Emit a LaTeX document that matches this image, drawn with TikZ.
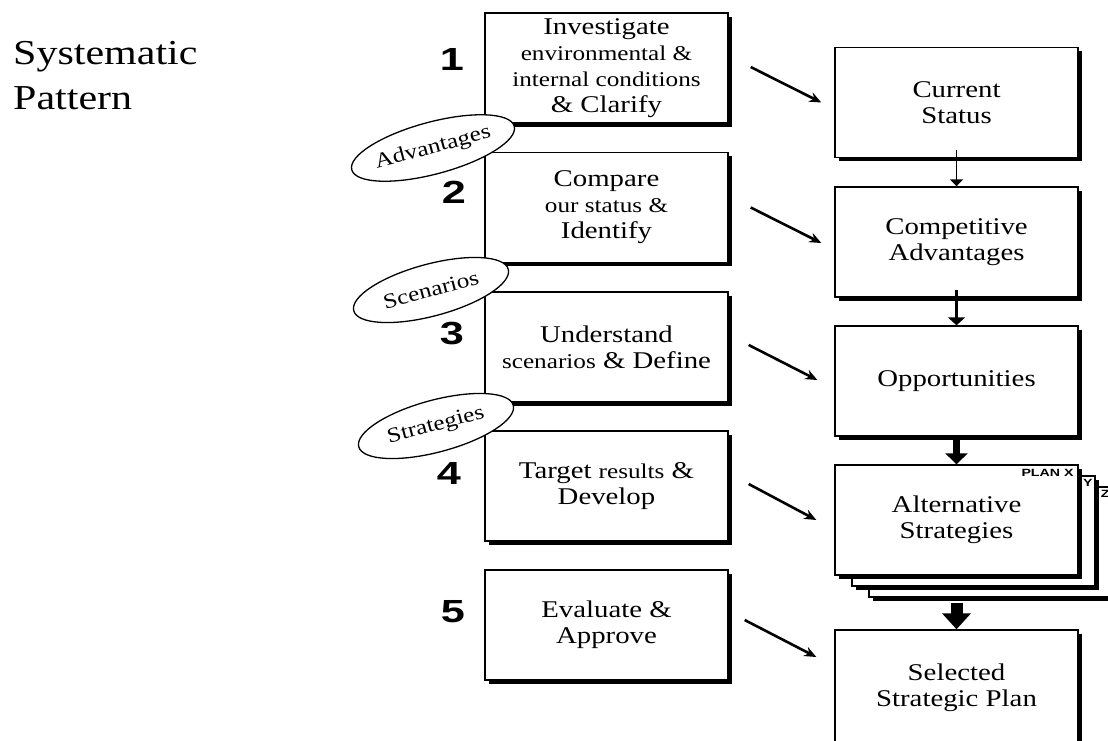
\documentclass[tikz,border=0pt]{standalone}
\usepackage{fontspec}
\setmainfont{Liberation Serif}[FakeStretch=1.2]
\newfontfamily\numfont{Liberation Sans}[FakeStretch=1.35]
\usetikzlibrary{shadows,shapes.geometric,arrows.meta,calc}
\newcommand{\sm}[1]{{\fontsize{21}{26}\selectfont #1}}

\begin{document}
\begin{tikzpicture}[x=1pt,y=-1pt,
  box/.style={rectangle, draw, line width=1.4pt, fill=white, minimum width=243pt, minimum height=110pt,
    align=center, inner sep=0pt, font=\fontsize{24}{26}\selectfont,
    drop shadow={shadow xshift=3.5pt, shadow yshift=-3.5pt, opacity=1, fill=black}},
  num/.style={font=\numfont\bfseries\fontsize{32}{32}\selectfont, inner sep=0pt},
  tag/.style={ellipse, draw, line width=1.3pt, fill=white, minimum width=160pt, minimum height=52pt,
    inner sep=0pt, rotate=15, font=\fontsize{21}{24}\selectfont},
  diag/.style={line width=2.6pt, -{Stealth[length=12pt,width=10pt]}},
  plan/.style={font=\numfont\bfseries\fontsize{10.5}{11}\selectfont, inner sep=0pt, anchor=north east}]

  \useasboundingbox (0,0) rectangle (1108,740);
  \clip (0,0) rectangle (1108,740);

  % Titre
  \node[anchor=north west, align=left, inner sep=0pt, font=\fontsize{35}{45}\selectfont] (title) at (13,41) {Systematic\\Pattern};

  % Etapes a gauche
  \node[box] (b1) at (606.5,68) {Investigate\\\sm{environmental \&}\\\sm{internal conditions}\\\& Clarify};
  \node[box] (b2) at (606.5,207.5) {Compare\\\sm{our status \&}\\Identify};
  \node[box] (b3) at (606.5,347) {Understand\\\sm{scenarios} \& Define};
  \node[box] (b4) at (606.5,486) {Target \sm{results} \&\\Develop};
  \node[box] (b5) at (606.5,625) {Evaluate \&\\Approve};

  % Resultats a droite
  \node[box] (cur) at (956.5,102.5) {Current\\Status};
  \node[box] (comp) at (956.5,242) {Competitive\\Advantages};
  \node[box] (opp) at (956.5,381) {Opportunities};
  \node[box] (alt3) at (990.5,542) {};
  \node[box] (alt2) at (973.5,531) {};
  \node[box] (alt) at (956.5,520) {Alternative\\Strategies};
  \node[box, minimum height=116pt] (sel) at (956.5,688) {Selected\\Strategic Plan};

  % Plans empiles
  \node[plan] at ($(alt.north east)+(-5,5)$) {PLAN X};
  \node[plan] at ($(alt2.north east)+(-3,4)$) {Y};
  \node[plan] at ($(alt3.north east)+(-3,4)$) {Z};

  % Fleches verticales, de plus en plus epaisses
  \draw[line width=1.5pt, -{Triangle[length=7pt,width=13pt]}, shorten <=-8pt] (cur) -- (comp);
  \draw[line width=3.5pt, -{Triangle[length=8pt,width=17pt]}, shorten <=-8pt] (comp) -- (opp);
  \draw[line width=7pt, -{Triangle[length=11pt,width=22pt]}] (opp) -- (alt);
  \draw[line width=12pt, -{Triangle[length=16pt,width=28pt]}, shorten <=27pt] (alt) -- (sel);

  % Fleches obliques
  \draw[diag] ($(b1.east)+(22,-1)$) -- ($(cur.west)+(-13,0)$);
  \draw[diag] ($(b2.east)+(22,0)$) -- ($(comp.west)+(-13,1)$);
  \draw[diag] ($(b3.east)+(20,-2)$) -- ($(opp.west)+(-17,-1)$);
  \draw[diag] ($(b4.east)+(20,-2)$) -- ($(alt.west)+(-18,0)$);
  \draw[diag] ($(b5.east)+(16,-5)$) -- ($(sel.west)+(-18,-31)$);

  % Ellipses entre les etapes
  \node[tag] (adv) at (433,148) {Advantages};
  \node[tag] (scen) at (431,290) {Scenarios};
  \node[tag] (strat) at (436,426) {Strategies};

  % Numeros des etapes
  \node[num] (n1) at (452,59) {1};
  \node[num] (n2) at (454,192) {2};
  \node[num] (n3) at (452,333) {3};
  \node[num] (n4) at (449,473) {4};
  \node[num] (n5) at (453,612) {5};
\end{tikzpicture}
\end{document}
